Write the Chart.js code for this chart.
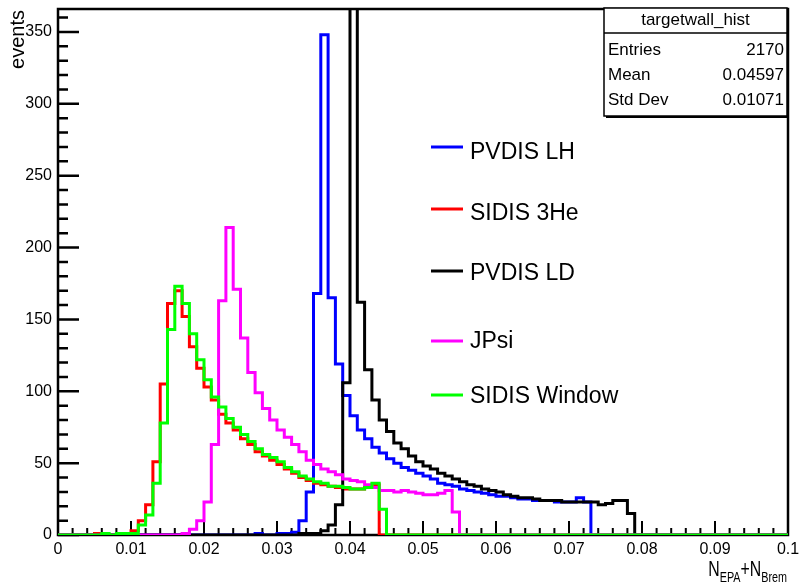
<!DOCTYPE html>
<html>
<head>
<meta charset="utf-8">
<script src="https://cdn.jsdelivr.net/npm/chart.js@4/dist/chart.umd.min.js"></script>
<style>
  html, body { margin: 0; padding: 0; background: #fff; }
  #wrap { width: 802px; height: 585px; }
</style>
</head>
<body>
<div id="wrap"><canvas id="histChart" width="802" height="585"></canvas></div>
<script>
// bin contents, 100 bins of width 0.001 from 0 to 0.1
const binWidth = 0.001;

const pvdisLH = [
  0, 0, 0, 0, 0, 0, 0, 0, 0, 0,
  0, 0, 0, 0, 0, 0, 0, 0, 0, 0,
  0, 0, 0, 0, 0, 0, 0, 1, 0, 0,
  1, 1, 2, 10, 30, 168, 348, 165, 119, 97,
  83, 73, 67, 61, 57, 53, 50, 47, 45, 43,
  41, 39, 36, 35, 34, 32, 31, 30, 29, 28,
  27, 27, 26, 25, 25, 24, 24, 24, 23, 23,
  23, 26, 23, 0, 0, 0, 0, 0, 0, 0,
  0, 0, 0, 0, 0, 0, 0, 0, 0, 0,
  0, 0, 0, 0, 0, 0, 0, 0, 0, 0
];

const sidis3He = [
  0, 0, 0, 0, 0, 1, 0, 0, 0, 0,
  3, 10, 21, 51, 105, 161, 170, 152, 131, 116,
  103, 94, 84, 78, 73, 67, 63, 58, 55, 52,
  49, 46, 43, 40, 38, 36, 35, 34, 33, 32,
  32, 32, 33, 35, 0, 0, 0, 0, 0, 0,
  0, 0, 0, 0, 0, 0, 0, 0, 0, 0,
  0, 0, 0, 0, 0, 0, 0, 0, 0, 0,
  0, 0, 0, 0, 0, 0, 0, 0, 0, 0,
  0, 0, 0, 0, 0, 0, 0, 0, 0, 0,
  0, 0, 0, 0, 0, 0, 0, 0, 0, 0
];

const pvdisLD = [
  0, 0, 0, 0, 0, 0, 0, 0, 0, 0,
  0, 0, 0, 0, 0, 0, 0, 0, 0, 0,
  0, 0, 0, 0, 0, 0, 0, 0, 0, 0,
  0, 0, 0, 1, 1, 1, 3, 7, 21, 106,
  441, 162, 115, 94, 80, 72, 64, 60, 55, 51,
  48, 46, 43, 41, 39, 37, 35, 34, 32, 31,
  30, 28, 27, 26, 26, 25, 24, 24, 24, 23,
  23, 23, 23, 23, 21, 22, 24, 24, 15, 0,
  0, 0, 0, 0, 0, 0, 0, 0, 0, 0,
  0, 0, 0, 0, 0, 0, 0, 0, 0, 0
];

const jpsi = [
  0, 0, 0, 0, 0, 0, 0, 0, 0, 0,
  0, 0, 0, 0, 0, 0, 0, 1, 4, 10,
  23, 63, 163, 214, 171, 137, 113, 99, 88, 80,
  73, 68, 63, 58, 52, 49, 46, 44, 42, 39,
  38, 37, 35, 33, 31, 31, 30, 31, 30, 29,
  28, 28, 29, 31, 16, 0, 0, 0, 0, 0,
  0, 0, 0, 0, 0, 0, 0, 0, 0, 0,
  0, 0, 0, 0, 0, 0, 0, 0, 0, 0,
  0, 0, 0, 0, 0, 0, 0, 0, 0, 0,
  0, 0, 0, 0, 0, 0, 0, 0, 0, 0
];

const sidisWindow = [
  0, 0, 0, 0, 0, 0, 1, 0, 1, 1,
  1, 7, 14, 36, 78, 143, 173, 161, 140, 122,
  108, 96, 89, 81, 75, 70, 65, 60, 56, 54,
  51, 47, 44, 41, 39, 37, 36, 34, 34, 33,
  32, 32, 33, 36, 18, 0, 0, 0, 0, 0,
  0, 0, 0, 0, 0, 0, 0, 0, 0, 0,
  0, 0, 0, 0, 0, 0, 0, 0, 0, 0,
  0, 0, 0, 0, 0, 0, 0, 0, 0, 0,
  0, 0, 0, 0, 0, 0, 0, 0, 0, 0,
  0, 0, 0, 0, 0, 0, 0, 0, 0, 0
];

const xTicks = [0, 0.01, 0.02, 0.03, 0.04, 0.05, 0.06, 0.07, 0.08, 0.09, 0.1];
const yTicks = [0, 50, 100, 150, 200, 250, 300, 350];
const yMax = 366;

const statsTitle = 'targetwall_hist';
const statLabels = ['Entries', 'Mean', 'Std Dev'];
const statValues = ['2170', '0.04597', '0.01071'];

const sans = "'Liberation Sans', Arial, sans-serif";

// histogram -> step line points (value of bin i held from edge i to edge i+1)
function histPoints(counts) {
  const pts = counts.map((c, i) => ({ x: i * binWidth, y: c }));
  pts.push({ x: counts.length * binWidth, y: 0 });
  return pts;
}

function histSet(label, counts, color, order) {
  return {
    label: label,
    data: histPoints(counts),
    borderColor: color,
    backgroundColor: color,
    borderWidth: 3,
    pointRadius: 0,
    stepped: true,
    fill: false,
    order: order
  };
}

// ROOT style frame with inward ticks, legend, stats box and axis titles
const rootFrame = {
  id: 'rootFrame',
  beforeDatasetsDraw(chart) {
    const { ctx, chartArea: a, scales: { x, y } } = chart;
    ctx.save();
    ctx.strokeStyle = '#000';
    ctx.lineWidth = 2;
    ctx.beginPath();
    for (let k = 0; k <= 50; k++) {
      const px = x.getPixelForValue(k * 0.002);
      const len = k % 5 === 0 ? 14 : 7;
      ctx.moveTo(px, a.bottom);
      ctx.lineTo(px, a.bottom - len);
    }
    ctx.stroke();
    ctx.lineWidth = 2.5;
    ctx.beginPath();
    for (let k = 0; k * 10 <= yMax; k++) {
      const py = y.getPixelForValue(k * 10);
      const len = k % 5 === 0 ? 21 : 10;
      ctx.moveTo(a.left, py);
      ctx.lineTo(a.left + len, py);
    }
    ctx.stroke();
    ctx.strokeRect(a.left, a.top, a.right - a.left, a.bottom - a.top);
    ctx.restore();
  },
  afterDraw(chart) {
    const { ctx, chartArea: a } = chart;
    ctx.save();
    ctx.fillStyle = '#000';

    // y title
    ctx.save();
    ctx.translate(24, a.top + 1);
    ctx.rotate(-Math.PI / 2);
    ctx.font = '20px ' + sans;
    ctx.textAlign = 'right';
    ctx.textBaseline = 'alphabetic';
    ctx.fillText('events', 0, 0);
    ctx.restore();

    // x title N_EPA+N_Brem, right aligned, condensed like the ROOT font
    const parts = [
      { t: 'N', f: '22px ' + sans, dy: 0 },
      { t: 'EPA', f: '15px ' + sans, dy: 6 },
      { t: '+', f: '22px ' + sans, dy: 0 },
      { t: 'N', f: '22px ' + sans, dy: 0 },
      { t: 'Brem', f: '15px ' + sans, dy: 6 }
    ];
    const squeeze = 0.72;
    let total = 0;
    parts.forEach(p => { ctx.font = p.f; p.w = ctx.measureText(p.t).width; total += p.w; });
    ctx.save();
    ctx.translate(787 - total * squeeze, 576);
    ctx.scale(squeeze, 1);
    ctx.textAlign = 'left';
    ctx.textBaseline = 'alphabetic';
    let cx = 0;
    parts.forEach(p => { ctx.font = p.f; ctx.fillText(p.t, cx, p.dy); cx += p.w; });
    ctx.restore();

    // legend
    const legendY = [[147, 153], [209, 214], [271, 274], [341, 342], [395, 397]];
    ctx.font = '23px ' + sans;
    ctx.textAlign = 'left';
    ctx.textBaseline = 'middle';
    chart.data.datasets.forEach((ds, i) => {
      const [ly, ty] = legendY[i];
      ctx.strokeStyle = ds.borderColor;
      ctx.lineWidth = 3;
      ctx.beginPath();
      ctx.moveTo(431, ly);
      ctx.lineTo(463, ly);
      ctx.stroke();
      ctx.fillStyle = '#000';
      ctx.fillText(ds.label, 470, ty);
    });

    // stats box
    const sx = 604, sy = 8, sw = 183, sh = 108, th = 25;
    ctx.fillStyle = '#fff';
    ctx.fillRect(sx, sy, sw, sh);
    ctx.fillStyle = '#000';
    ctx.fillRect(sx + sw, sy + 2, 2, sh);
    ctx.fillRect(sx + 2, sy + sh, sw, 2);
    ctx.strokeStyle = '#000';
    ctx.lineWidth = 1.5;
    ctx.strokeRect(sx, sy, sw, sh);
    ctx.beginPath();
    ctx.moveTo(sx, sy + th);
    ctx.lineTo(sx + sw, sy + th);
    ctx.stroke();
    ctx.font = '17px ' + sans;
    ctx.textBaseline = 'middle';
    ctx.textAlign = 'center';
    ctx.fillText(statsTitle, sx + sw / 2, sy + 12.5);
    statLabels.forEach((lab, i) => {
      const ry = sy + th + 17 + i * 25;
      ctx.textAlign = 'left';
      ctx.fillText(lab, sx + 4, ry);
      ctx.textAlign = 'right';
      ctx.fillText(statValues[i], sx + sw - 3, ry);
    });
    ctx.restore();
  }
};

new Chart(document.getElementById('histChart').getContext('2d'), {
  type: 'line',
  data: {
    datasets: [
      histSet('PVDIS LH', pvdisLH, '#0000ff', 4),
      histSet('SIDIS 3He', sidis3He, '#ff0000', 3),
      histSet('PVDIS LD', pvdisLD, '#000000', 2),
      histSet('JPsi', jpsi, '#ff00ff', 1),
      histSet('SIDIS Window', sidisWindow, '#00ff00', 0)
    ]
  },
  options: {
    responsive: false,
    devicePixelRatio: 1,
    animation: false,
    layout: { padding: { top: 9, right: 14, left: 0, bottom: 0 } },
    plugins: { legend: { display: false }, tooltip: { enabled: false } },
    scales: {
      x: {
        type: 'linear',
        min: 0,
        max: 0.1,
        grid: { display: false, drawTicks: false },
        border: { display: false },
        afterBuildTicks: s => { s.ticks = xTicks.map(v => ({ value: v })); },
        afterFit: s => { s.height = 50; s.paddingLeft = 0; s.paddingRight = 0; },
        ticks: {
          autoSkip: false,
          maxRotation: 0,
          padding: 5,
          color: '#000',
          font: { family: sans, size: 16 },
          callback: v => String(+v.toFixed(2))
        }
      },
      y: {
        type: 'linear',
        min: 0,
        max: yMax,
        grid: { display: false, drawTicks: false },
        border: { display: false },
        afterBuildTicks: s => { s.ticks = yTicks.map(v => ({ value: v })); },
        afterFit: s => { s.width = 58; s.paddingTop = 0; s.paddingBottom = 0; },
        ticks: {
          padding: 6,
          color: '#000',
          font: { family: sans, size: 16 }
        }
      }
    }
  },
  plugins: [rootFrame]
});
</script>
</body>
</html>
